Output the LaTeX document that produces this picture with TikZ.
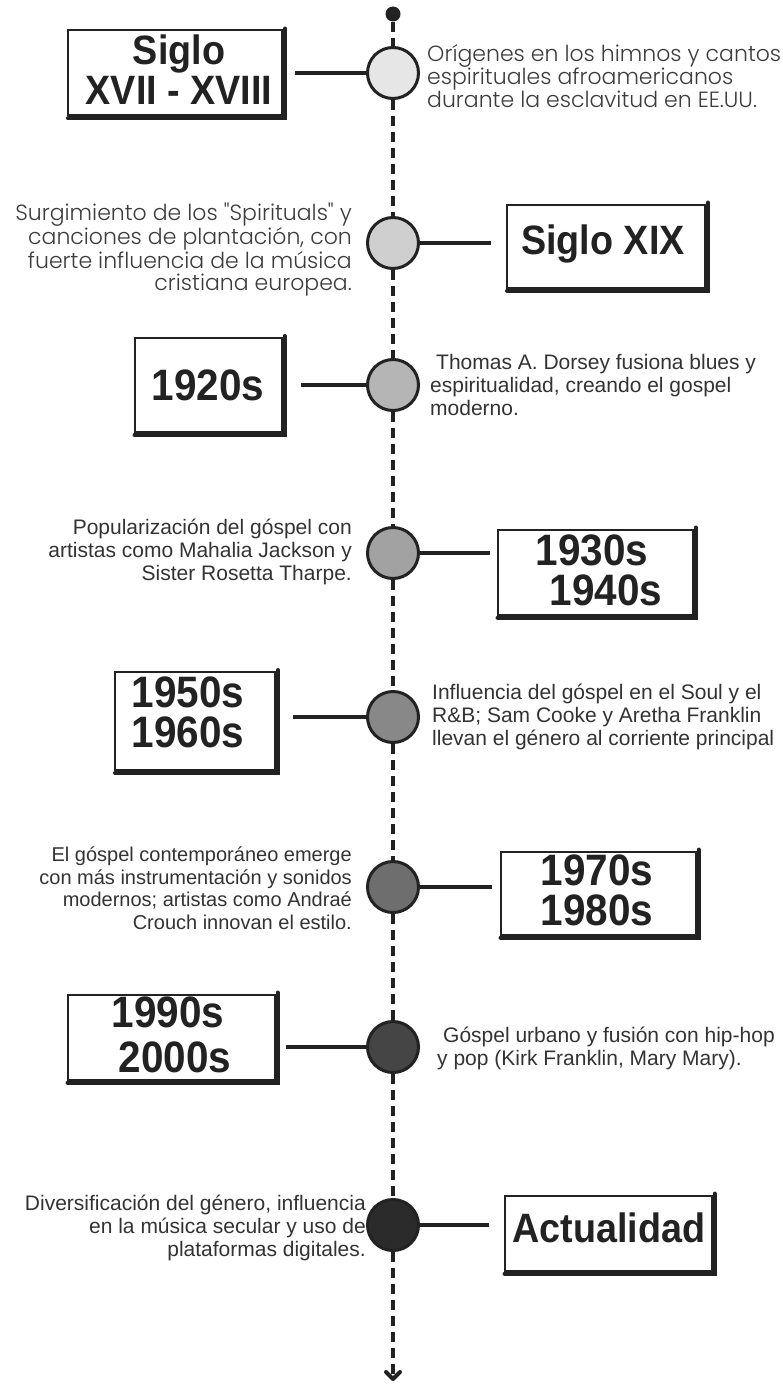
\documentclass[tikz,border=0pt]{standalone}
\usepackage{fontspec}
\newfontfamily\boxfont[FakeStretch=0.92]{Liberation Sans}
\newfontfamily\descfont{Liberation Sans}
\newfontfamily\descfontb{Poppins Light}
\definecolor{ink}{HTML}{222222}
\definecolor{txt}{HTML}{333333}
\definecolor{txtm}{HTML}{3C3C3C}
\definecolor{fa}{HTML}{E6E6E6}
\definecolor{fb}{HTML}{CFCFCF}
\definecolor{fc}{HTML}{B5B5B5}
\definecolor{fd}{HTML}{A2A2A2}
\definecolor{fe}{HTML}{888888}
\definecolor{ff}{HTML}{6E6E6E}
\definecolor{fg}{HTML}{454545}
\definecolor{fh}{HTML}{2B2B2B}
\tikzset{
  x=1pt, y=-1pt,
  tl/.style={draw=ink, line width=4pt, dash pattern=on 10pt off 6pt},
  dot/.style={circle, draw=ink, line width=3pt, minimum size=51pt, inner sep=0pt},
  conn/.style={draw=ink, line width=4pt},
  yearbox/.style={draw=ink, line width=2pt, fill=white, inner sep=0pt},
  shade/.style={draw=ink, line width=4pt, line cap=round},
  yeartext/.style={font=\boxfont\bfseries\fontsize{41}{40}\selectfont, text=ink, align=center, inner sep=0pt},
  yearbig/.style={yeartext, font=\boxfont\bfseries\fontsize{44}{40}\selectfont},
  desc/.style={font=\descfont\fontsize{21}{23}\selectfont, text=txt, inner sep=0pt},
  descs/.style={desc, font=\descfont\fontsize{20}{22.5}\selectfont},
  descm/.style={font=\descfontb\fontsize{22}{22.5}\selectfont, text=txtm, inner sep=0pt},
}
\newcommand{\ybox}[5]{% name, cx, cy, w, h
  \node[yearbox, minimum width=#4pt, minimum height=#5pt] (#1) at (#2,#3) {};
  \draw[shade] ([xshift=2pt,yshift=1pt]#1.north east) -- ([xshift=2pt,yshift=-2pt]#1.south east) -- ([xshift=1pt,yshift=-2pt]#1.south west);
}
\begin{document}
\begin{tikzpicture}
\useasboundingbox[fill=white] (0,0) rectangle (782,1386);

% dots
\node[circle, fill=ink, minimum size=15pt, inner sep=0pt] (top) at (393,14) {};
\node[dot, fill=fa] (c1) at (393,73) {};
\node[dot, fill=fb] (c2) at (393,243) {};
\node[dot, fill=fc] (c3) at (393,385) {};
\node[dot, fill=fd] (c4) at (393,553) {};
\node[dot, fill=fe] (c5) at (393,717) {};
\node[dot, fill=ff] (c6) at (393,887) {};
\node[dot, fill=fg] (c7) at (393,1047) {};
\node[dot, fill=fh] (c8) at (393,1225) {};
\coordinate (bot) at (393,1379);

% timeline
\draw[tl] (top) -- (c1);
\draw[tl] (c1) -- (c2);
\draw[tl] (c2) -- (c3);
\draw[tl] (c3) -- (c4);
\draw[tl] (c4) -- (c5);
\draw[tl] (c5) -- (c6);
\draw[tl] (c6) -- (c7);
\draw[tl] (c7) -- (c8);
\draw[tl] (c8) -- (bot);
\draw[draw=ink, line width=4pt, line cap=round, line join=round]
  ([xshift=-7pt,yshift=7pt]bot) -- (bot) -- ([xshift=7pt,yshift=7pt]bot);

% boxes
\ybox{b1}{175}{73}{214}{85}
\ybox{b2}{606}{246}{198}{83}
\ybox{b3}{208}{385}{147}{94}
\ybox{b4}{595}{572}{195}{85}
\ybox{b5}{195}{721}{160}{98}
\ybox{b6}{598}{893}{195}{83}
\ybox{b7}{171}{1037}{207}{85}
\ybox{b8}{608}{1233}{207}{75}

% box texts
\node[yeartext] (t1) at (179,70) {Siglo\\XVII - XVIII};
\node[yeartext] (t2) at (603,244) {Siglo XIX};
\node[yearbig] (t3) at (208,385) {1920s};
\node[yearbig] (t4) at (592,570) {1930s\\\hspace*{28pt}1940s};
\node[yearbig] (t5) at (188,712) {1950s\\1960s};
\node[yearbig] (t6) at (597,890) {1970s\\1980s};
\node[yearbig] (t7) at (168,1035) {1990s\\[5pt]\hspace*{14pt}2000s};
\node[yeartext] (t8) at (609,1228) {Actualidad};

% connectors
\draw[conn] ([xshift=12pt]b1.east |- c1) -- (c1.west);
\draw[conn] (c2.east) -- ([xshift=-15pt]b2.west |- c2);
\draw[conn] ([xshift=18pt]b3.east |- c3) -- (c3.west);
\draw[conn] (c4.east) -- ([xshift=-7pt]b4.west |- c4);
\draw[conn] ([xshift=17pt]b5.east |- c5) -- (c5.west);
\draw[conn] (c6.east) -- ([xshift=-8pt]b6.west |- c6);
\draw[conn] ([xshift=10pt]b7.east |- c7) -- (c7.west);
\draw[conn] (c8.east) -- ([xshift=-15pt]b8.west |- c8);

% descriptions
\node[descm, anchor=west, align=left] (d1) at (427,76) {Orígenes en los himnos y cantos\\espirituales afroamericanos\\durante la esclavitud en EE.UU.};
\node[descm, anchor=east, align=right] (d2) at (352,250) {Surgimiento de los "Spirituals" y\\canciones de plantación, con\\fuerte influencia de la música\\cristiana europea.};
\node[desc, anchor=west, align=left] (d3) at (430,385) {\hspace*{6pt}Thomas A. Dorsey fusiona blues y\\espiritualidad, creando el gospel\\moderno.};
\node[desc, anchor=east, align=right] (d4) at (352,552) {Popularización del góspel con\\artistas como Mahalia Jackson y\\Sister Rosetta Tharpe.};
\node[desc, anchor=west, align=left] (d5) at (432,717) {Influencia del góspel en el Soul y el\\R\&B; Sam Cooke y Aretha Franklin\\llevan el género al corriente principal};
\node[descs, anchor=east, align=right] (d6) at (352,888) {El góspel contemporáneo emerge\\con más instrumentación y sonidos\\modernos; artistas como Andraé\\Crouch innovan el estilo.};
\node[desc, anchor=west, align=left] (d7) at (437,1048) {\hspace*{6pt}Góspel urbano y fusión con hip-hop\\y pop (Kirk Franklin, Mary Mary).};
\node[desc, anchor=east, align=right] (d8) at (366,1228) {Diversificación del género, influencia\\en la música secular y uso de\\plataformas digitales.};
\end{tikzpicture}
\end{document}
